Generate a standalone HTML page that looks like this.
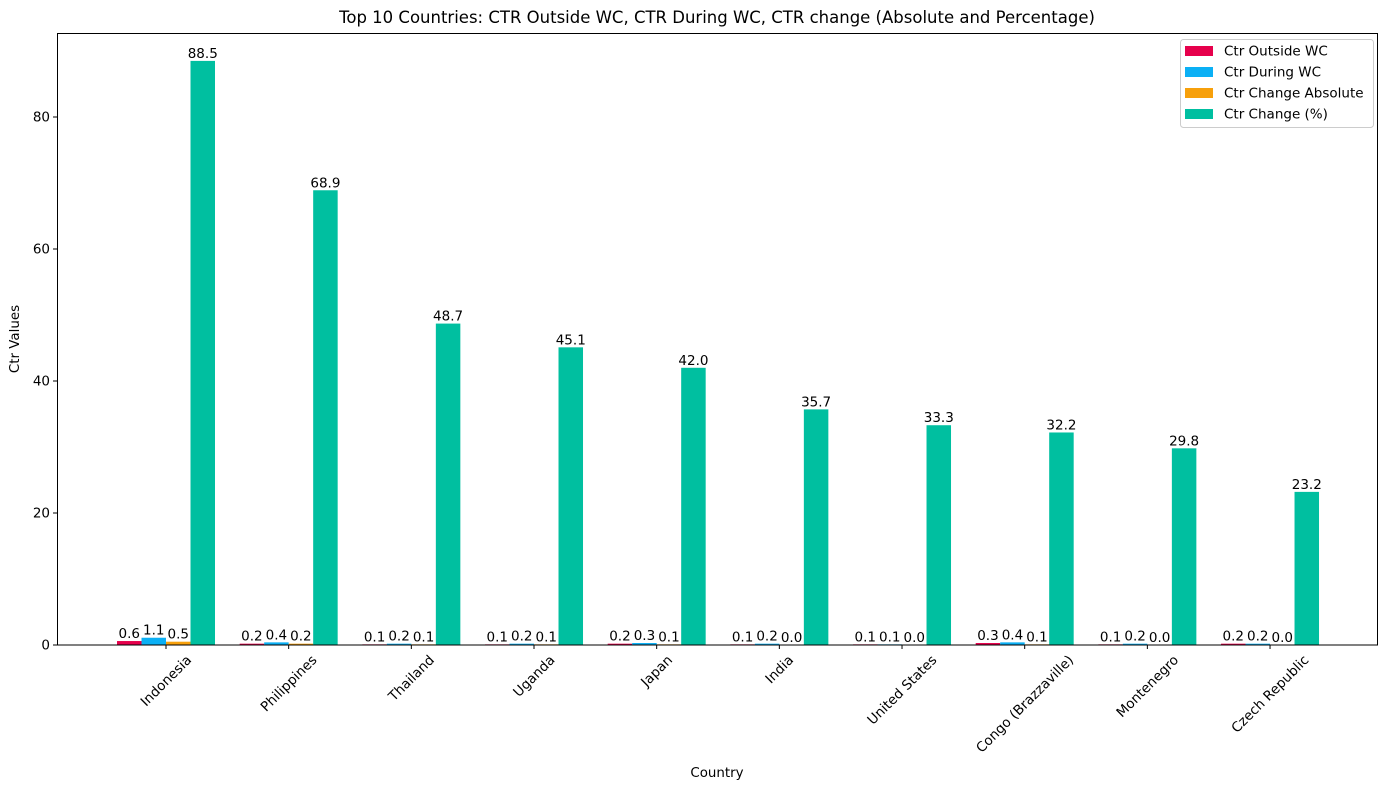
<!DOCTYPE html>
<html><head><meta charset="utf-8"><style>
body{margin:0;background:#fff}
svg{font-family:"DejaVu Sans","Liberation Sans",sans-serif;display:block}
</style></head><body>
<svg id="chart" width="1389" height="790" xmlns="http://www.w3.org/2000/svg">
<rect width="1389" height="790" fill="#fff"/>
<text x="717" y="23" font-size="16.5" text-anchor="middle">Top 10 Countries: CTR Outside WC, CTR During WC, CTR change (Absolute and Percentage)</text>
<g id="bars"></g>
<g id="axes"></g>
<rect x="57.5" y="33.5" width="1320" height="611.5" fill="none" stroke="#000" stroke-width="1"/>
<text transform="translate(19,339) rotate(-90)" font-size="13.4" text-anchor="middle">Ctr Values</text>
<text x="717" y="777" font-size="13.4" text-anchor="middle">Country</text>
<g>
<rect x="1180.5" y="39.5" width="193" height="88" rx="3" fill="#fff" fill-opacity="0.8" stroke="#ccc"/>
<g id="legend-items"></g>
</g>
</svg>
<script>
const categories=["Indonesia","Philippines","Thailand","Uganda","Japan","India","United States","Congo (Brazzaville)","Montenegro","Czech Republic"];
const ctrOutside=[0.6,0.2,0.1,0.1,0.2,0.1,0.1,0.3,0.1,0.2];
const ctrDuring=[1.1,0.4,0.2,0.2,0.3,0.2,0.1,0.4,0.2,0.2];
const ctrChangeAbs=[0.5,0.2,0.1,0.1,0.1,0.0,0.0,0.1,0.0,0.0];
const ctrChangePct=[88.5,68.9,48.7,45.1,42.0,35.7,33.3,32.2,29.8,23.2];
const yTicks=[0,20,40,60,80];
const seriesNames=["Ctr Outside WC","Ctr During WC","Ctr Change Absolute","Ctr Change (%)"];
const seriesColors=["#e6004c","#0bb0f5","#f7a00b","#00bfa0"];
const NS="http://www.w3.org/2000/svg";
const FS=13.5;
const y=v=>645-v*6.6;
const xc=i=>166+i*122.67;
const bw=24.5;
const series=[ctrOutside,ctrDuring,ctrChangeAbs,ctrChangePct];
const bars=document.getElementById('bars');
function mk(tag,attrs,parent){const e=document.createElementNS(NS,tag);for(const k in attrs)e.setAttribute(k,attrs[k]);parent.appendChild(e);return e;}
series.forEach((s,si)=>{
 s.forEach((v,i)=>{
  const x=xc(i)+(si-2)*bw;
  const r=mk('rect',{x:x,y:y(v),width:bw,height:645-y(v),fill:seriesColors[si]},bars);
  
  
  const t=mk('text',{x:x+bw/2,y:y(v)-3,'font-size':FS,'text-anchor':'middle'},bars);
  t.textContent=v.toFixed(1);
  
  
 });
});
const axes=document.getElementById('axes');
yTicks.forEach(v=>{
 mk('line',{x1:53,x2:57,y1:y(v),y2:y(v),stroke:'#000'},axes);
 const t=mk('text',{x:50,y:y(v)+4.5,'font-size':FS,'text-anchor':'end'},axes);
 t.textContent=v;
 
 
});
categories.forEach((c,i)=>{
 mk('line',{x1:xc(i),x2:xc(i),y1:645,y2:649,stroke:'#000'},axes);
 const t=mk('text',{'font-size':FS,'text-anchor':'middle'},axes);
 t.textContent=c;
 
 
 const w=t.getComputedTextLength();
 const h=(w+13)*0.7071;
 t.setAttribute('transform','translate('+xc(i)+','+(653+h/2)+') rotate(-45) translate(0,4.5)');
});
const li=document.getElementById('legend-items');
seriesNames.forEach((n,i)=>{
 const yy=51+i*21;
 const r=mk('rect',{x:1185,y:yy-5,width:28,height:10,fill:seriesColors[i]},li);
 
 
 const t=mk('text',{x:1224,y:yy+4.5,'font-size':FS},li);
 t.textContent=n;
 
 
});
</script>
</body></html>
